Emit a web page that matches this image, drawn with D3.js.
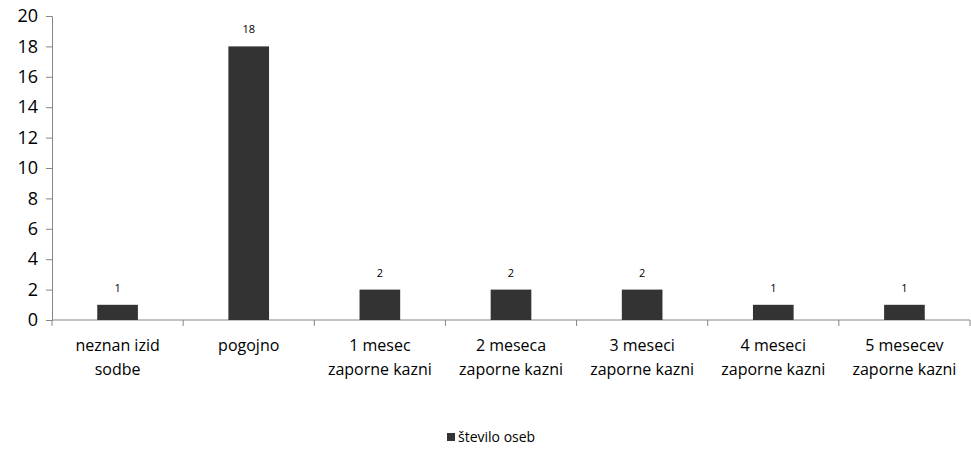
<!DOCTYPE html>
<html lang="sl">
<head>
  <meta charset="utf-8">
  <script src="https://cdn.jsdelivr.net/npm/d3@7"></script>
  <style>
    body { margin: 0; background: #fff; }
    text { font-family: "Open Sans", "Liberation Sans", sans-serif; fill: #000; }
  </style>
</head>
<body>
  <script>
    var categories = [
      ["neznan izid", "sodbe"],
      ["pogojno"],
      ["1 mesec", "zaporne kazni"],
      ["2 meseca", "zaporne kazni"],
      ["3 meseci", "zaporne kazni"],
      ["4 meseci", "zaporne kazni"],
      ["5 mesecev", "zaporne kazni"]
    ];
    var values = [1, 18, 2, 2, 2, 1, 1];
    var yTicks = [0, 2, 4, 6, 8, 10, 12, 14, 16, 18, 20];
    var seriesName = "število oseb";

    var w = 971, h = 449;
    var margin = { top: 16, left: 52, right: 1, bottom: 129 };
    var width = w - margin.left - margin.right;
    var height = h - margin.top - margin.bottom;

    var svg = d3.select("body").append("svg")
                .attr("width", w)
                .attr("height", h);
    var g = svg.append("g")
               .attr("transform", "translate(" + margin.left + "," + margin.top + ")");

    var keys = categories.map(function (d, i) { return i; });
    var x = d3.scaleBand().domain(keys).range([0, width]).paddingInner(0.69).paddingOuter(0.345);
    var xOuter = d3.scaleBand().domain(keys).range([0, width]);
    var y = d3.scaleLinear().domain([0, 20]).range([height, 0]);

    // y axis
    var yAxis = g.append("g")
                 .call(d3.axisLeft(y).tickValues(yTicks).tickSize(6).tickPadding(8));
    yAxis.selectAll("path, line").attr("stroke", "#868686");
    yAxis.selectAll("text").style("font-size", "18px");

    // x axis: ticks at category boundaries
    g.append("line")
     .attr("x1", 0).attr("x2", width)
     .attr("y1", height).attr("y2", height)
     .attr("stroke", "#868686");
    g.selectAll(".xtick")
     .data(keys.concat([keys.length]))
     .enter().append("line")
     .attr("x1", function (d) { return d * xOuter.step(); })
     .attr("x2", function (d) { return d * xOuter.step(); })
     .attr("y1", height).attr("y2", height + 6)
     .attr("stroke", "#868686");

    // category labels
    var lbl = g.selectAll(".cat")
               .data(categories)
               .enter().append("text")
               .attr("text-anchor", "middle")
               .attr("transform", function (d, i) {
                 return "translate(" + (xOuter(i) + xOuter.bandwidth() / 2) + "," + (height + 31) + ")";
               })
               .style("font-size", "16px");
    lbl.selectAll("tspan")
       .data(function (d) { return d; })
       .enter().append("tspan")
       .attr("x", 0)
       .attr("dy", function (d, i) { return i === 0 ? 0 : 24; })
       .text(function (d) { return d; });

    // bars
    g.selectAll(".bar")
     .data(values)
     .enter().append("rect")
     .attr("x", function (d, i) { return x(i); })
     .attr("width", x.bandwidth())
     .attr("y", function (d) { return y(d); })
     .attr("height", function (d) { return height - y(d); })
     .attr("fill", "#333333");

    // value labels
    g.selectAll(".val")
     .data(values)
     .enter().append("text")
     .attr("text-anchor", "middle")
     .attr("x", function (d, i) { return x(i) + x.bandwidth() / 2; })
     .attr("y", function (d) { return y(d) - 13; })
     .style("font-size", "11px")
     .text(function (d) { return d; });

    // legend
    var legend = svg.append("g").attr("transform", "translate(447,442)");
    legend.append("rect").attr("x", 0).attr("y", -9).attr("width", 8).attr("height", 8).attr("fill", "#333333");
    legend.append("text").attr("x", 11).attr("y", 0).style("font-size", "14px").text(seriesName);
  </script>
</body>
</html>
